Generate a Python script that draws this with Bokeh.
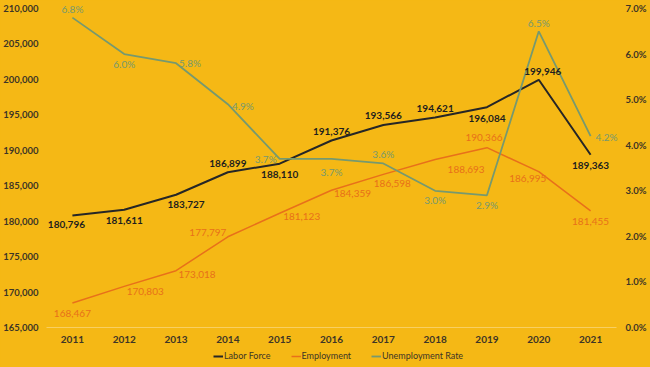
from bokeh.plotting import figure
from bokeh.models import (Range1d, LinearAxis, FixedTicker, NumeralTickFormatter,
                          PrintfTickFormatter, ColumnDataSource, Legend, LegendItem)
from bokeh.embed import file_html
from bokeh.resources import INLINE
from bokeh.core.properties import value

# ---------------- data ----------------
years = [2011, 2012, 2013, 2014, 2015, 2016, 2017, 2018, 2019, 2020, 2021]
labor_force = [180796, 181611, 183727, 186899, 188110, 191376, 193566, 194621, 196084, 199946, 189363]
employment = [168467, 170803, 173018, 177797, 181123, 184359, 186598, 188693, 190366, 186995, 181455]
unemployment_rate = [6.8, 6.0, 5.8, 4.9, 3.7, 3.7, 3.6, 3.0, 2.9, 6.5, 4.2]
left_ticks = [165000, 170000, 175000, 180000, 185000, 190000, 195000, 200000, 205000, 210000]
right_ticks = [0, 1, 2, 3, 4, 5, 6, 7]
series_names = ["Labor Force", "Employment", "Unemployment Rate"]

# ---------------- label offsets (style, px) ----------------
labor_dx = [-6, 0, 10, 0, 0, 0, 0, 0, 0, 4, 0]
labor_dy = [9, 11, 10, -9, 11, -9, -9, -9, 11, -8, 11]
emp_dx = [0, 21, 21, -20, 22, 21, 9, 31, -3, -11, 0]
emp_dy = [11, 5, 4, -4, 3, 3, 9, 10, -10, 7, 11]
rate_dx = [0, 0, 14, 15, -14, 0, 0, 0, 0, 0, 16]
rate_dy = [-9, 10, 0, 2, 0, 13, -9, 9, 10, -8, 1]

BG = "#F5B815"
TXT = "#3D3526"
C_LABOR = "#262626"
C_EMP = "#E8701A"
C_RATE = "#76996F"
FONT = "Lato"

# ---------------- geometry (px; the frame fills the whole canvas) ----------------
W, H = 650, 367
PLOT_L, PLOT_R = 46, 616      # category area edges
TICK_TOP, TICK_BOT = 8, 327   # y of top and bottom ticks
x0, x1 = years[0] - 0.5, years[-1] + 0.5
ux = (x1 - x0) / (PLOT_R - PLOT_L)
x_lo, x_hi = x0 - PLOT_L * ux, x1 + (W - PLOT_R) * ux
lo_tick, hi_tick = left_ticks[0], left_ticks[-1]
u = (hi_tick - lo_tick) / (TICK_BOT - TICK_TOP)
y_lo, y_hi = lo_tick - (H - TICK_BOT) * u, hi_tick + TICK_TOP * u
ru = (right_ticks[-1] - right_ticks[0]) / (TICK_BOT - TICK_TOP)
r_lo, r_hi = right_ticks[0] - (H - TICK_BOT) * ru, right_ticks[-1] + TICK_TOP * ru

p = figure(width=W, height=H, output_backend="svg", toolbar_location=None,
           x_range=Range1d(x_lo, x_hi), y_range=Range1d(y_lo, y_hi),
           min_border_left=0, min_border_right=0, min_border_top=0, min_border_bottom=0)
p.background_fill_color = BG
p.border_fill_color = BG
p.outline_line_color = None
p.grid.visible = False
p.extra_y_ranges = {"rate": Range1d(r_lo, r_hi)}

# axes styling
xa = p.xaxis[0]
xa.fixed_location = lo_tick
xa.bounds = (x0, x1)
xa.ticker = FixedTicker(ticks=years)
xa.axis_line_color = "#F8CF62"
xa.axis_line_width = 1
xa.major_tick_line_color = None
xa.major_tick_out = 0
xa.major_tick_in = 0
xa.minor_tick_line_color = None
xa.major_label_standoff = 8
xa.major_label_text_font = FONT
xa.major_label_text_font_style = "bold"
xa.major_label_text_font_size = "10px"
xa.major_label_text_color = TXT

ya = p.yaxis[0]
ya.fixed_location = x0
ya.ticker = FixedTicker(ticks=left_ticks)
ya.formatter = NumeralTickFormatter(format="0,0")
ya.axis_line_color = None
ya.major_tick_line_color = None
ya.major_tick_out = 0
ya.major_tick_in = 0
ya.minor_tick_line_color = None
ya.major_label_standoff = 8
ya.major_label_text_font = FONT
ya.major_label_text_font_style = "bold"
ya.major_label_text_font_size = "9.5px"
ya.major_label_text_color = TXT

ra = LinearAxis(y_range_name="rate", ticker=FixedTicker(ticks=right_ticks),
                formatter=PrintfTickFormatter(format="%.1f%%"), fixed_location=x1)
ra.axis_line_color = None
ra.major_tick_line_color = None
ra.major_tick_out = 0
ra.major_tick_in = 0
ra.minor_tick_line_color = None
ra.major_label_standoff = 9
ra.major_label_text_font = FONT
ra.major_label_text_font_style = "bold"
ra.major_label_text_font_size = "9.5px"
ra.major_label_text_color = TXT
p.add_layout(ra, "right")

# sources
src_l = ColumnDataSource(dict(x=years, y=labor_force, t=[f"{v:,}" for v in labor_force],
                              dx=labor_dx, dy=labor_dy))
src_e = ColumnDataSource(dict(x=years, y=employment, t=[f"{v:,}" for v in employment],
                              dx=emp_dx, dy=emp_dy))
src_r = ColumnDataSource(dict(x=years, y=unemployment_rate, t=[f"{v:.1f}%" for v in unemployment_rate],
                              dx=rate_dx, dy=rate_dy))

r_l = p.line("x", "y", source=src_l, line_color=C_LABOR, line_width=2)
r_e = p.line("x", "y", source=src_e, line_color=C_EMP, line_width=1.5)
r_r = p.line("x", "y", source=src_r, line_color=C_RATE, line_width=1.8, y_range_name="rate")

p.text("x", "y", text="t", source=src_l, x_offset="dx", y_offset="dy",
       text_align="center", text_baseline="middle", text_font=value(FONT),
       text_font_style="bold", text_font_size="10px", text_color="#1E1E1E")
p.text("x", "y", text="t", source=src_e, x_offset="dx", y_offset="dy",
       text_align="center", text_baseline="middle", text_font=value(FONT),
       text_font_size="10px", text_color=C_EMP)
p.text("x", "y", text="t", source=src_r, x_offset="dx", y_offset="dy", y_range_name="rate",
       text_align="center", text_baseline="middle", text_font=value(FONT),
       text_font_size="10px", text_color=C_RATE)

legend = Legend(items=[LegendItem(label=series_names[0], renderers=[r_l]),
                       LegendItem(label=series_names[1], renderers=[r_e]),
                       LegendItem(label=series_names[2], renderers=[r_r])],
                orientation="horizontal", location=(213, 6))
legend.label_text_font = FONT
legend.label_text_font_size = "9px"
legend.label_text_color = TXT
legend.glyph_width = 10
legend.glyph_height = 10
legend.label_height = 10
legend.label_standoff = 1
legend.spacing = 20
legend.padding = 0
legend.margin = 0
legend.background_fill_alpha = 0
legend.border_line_alpha = 0
p.add_layout(legend)

html = file_html(p, INLINE)
html = html.replace("</head>", "<style>html,body{background-color:%s;}</style></head>" % BG, 1)
open("out.html", "w").write(html)
